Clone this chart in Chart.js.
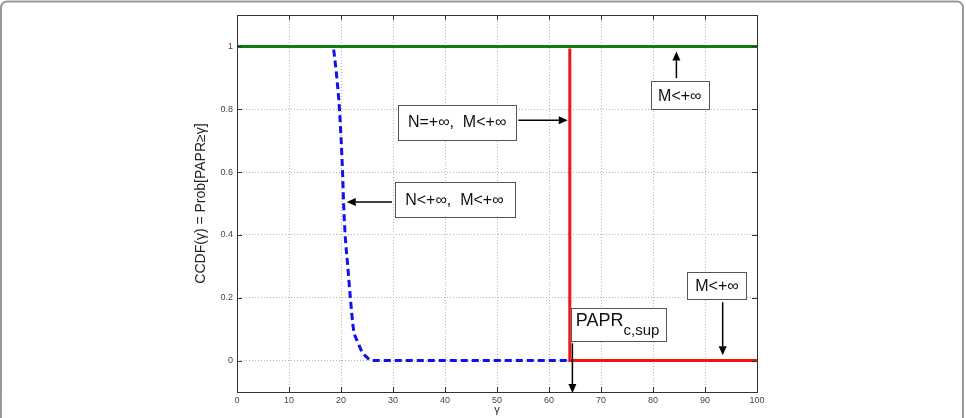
<!DOCTYPE html>
<html>
<head>
<meta charset="utf-8">
<script src="https://cdn.jsdelivr.net/npm/chart.js@4.4.0/dist/chart.umd.min.js"></script>
<style>
  html, body { margin: 0; padding: 0; background: #fff; }
  #wrap { width: 966px; height: 418px; }
</style>
</head>
<body>
<div id="wrap"><canvas id="ccdfChart" width="966" height="418"></canvas></div>
<script>
// curve values
const blueGamma = [18.6, 19.2, 19.7, 20.3, 20.5, 20.8, 21.3, 21.8, 22.4, 23.2, 24.0, 25.0, 25.9, 64];
const blueCcdf  = [0.99, 0.9, 0.8, 0.6, 0.5, 0.4, 0.3, 0.2, 0.1, 0.06, 0.03, 0.01, 0, 0];
const redGamma  = [64, 64, 100];
const redCcdf   = [0.993, 0, 0];
const greenGamma = [0, 100];
const greenCcdf  = [1, 1];

const xTicks = [0, 10, 20, 30, 40, 50, 60, 70, 80, 90, 100];
const yTicks = [0, 0.2, 0.4, 0.6, 0.8, 1];

// text boxes with arrows (data coordinates)
const notes = [
    { text: 'N=+\u221E,  M<+\u221E', box: [31.0, 0.815, 53.65, 0.704], arrow: [54.1, 0.765, 63.6, 0.765] },
    { text: 'N<+\u221E,  M<+\u221E', box: [30.3, 0.569, 53.3, 0.459], arrow: [29.8, 0.505, 21.1, 0.505] },
    { text: 'M<+\u221E', box: [79.6, 0.889, 90.7, 0.799], arrow: [84.5, 0.899, 84.5, 0.984] },
    { text: 'PAPR', sub: 'c,sup', box: [64.2, 0.167, 82.4, 0.061], arrow: [64.5, 0.055, 64.5, -0.103] },
    { text: 'M<+\u221E', box: [86.6, 0.281, 98.0, 0.195], arrow: [93.4, 0.186, 93.4, 0.017] }
];

const toPoints = (xs, ys) => xs.map((x, i) => ({ x: x, y: ys[i] }));

const framePlugin = {
    id: 'frame',
    afterDatasetsDraw(chart) {
        const { ctx, chartArea: a, scales } = chart;
        const sx = scales.x, sy = scales.y;
        ctx.save();
        // axes box
        ctx.strokeStyle = '#333';
        ctx.lineWidth = 1;
        ctx.strokeRect(Math.round(a.left) + 0.5, Math.round(a.top) + 0.5,
            Math.round(a.right - a.left), Math.round(a.bottom - a.top));
        // inward tick marks on all sides
        ctx.beginPath();
        xTicks.forEach(v => {
            const px = Math.round(sx.getPixelForValue(v)) + 0.5;
            ctx.moveTo(px, a.bottom); ctx.lineTo(px, a.bottom - 5);
            ctx.moveTo(px, a.top); ctx.lineTo(px, a.top + 5);
        });
        yTicks.forEach(v => {
            const py = Math.round(sy.getPixelForValue(v)) + 0.5;
            ctx.moveTo(a.left, py); ctx.lineTo(a.left + 5, py);
            ctx.moveTo(a.right, py); ctx.lineTo(a.right - 5, py);
        });
        ctx.stroke();
        ctx.restore();
    },
    afterDraw(chart) {
        const { ctx, scales } = chart;
        const sx = scales.x, sy = scales.y;
        ctx.save();
        notes.forEach(n => {
            const x1 = sx.getPixelForValue(n.box[0]), y1 = sy.getPixelForValue(n.box[1]);
            const x2 = sx.getPixelForValue(n.box[2]), y2 = sy.getPixelForValue(n.box[3]);
            ctx.fillStyle = '#fff';
            ctx.fillRect(x1, y1, x2 - x1, y2 - y1);
            ctx.strokeStyle = '#555';
            ctx.lineWidth = 1;
            ctx.strokeRect(Math.round(x1) + 0.5, Math.round(y1) + 0.5, Math.round(x2 - x1), Math.round(y2 - y1));
            ctx.fillStyle = '#111';
            ctx.textBaseline = 'middle';
            if (n.sub) {
                ctx.textAlign = 'left';
                ctx.font = '18px Arial, "Liberation Sans", sans-serif';
                const w = ctx.measureText(n.text).width;
                ctx.fillText(n.text, x1 + 5, (y1 + y2) / 2 - 4);
                ctx.font = '15px Arial, "Liberation Sans", sans-serif';
                ctx.fillText(n.sub, x1 + 5 + w, (y1 + y2) / 2 + 6);
            } else {
                ctx.textAlign = 'center';
                ctx.font = '16px Arial, "Liberation Sans", sans-serif';
                ctx.fillText(n.text, (x1 + x2) / 2, (y1 + y2) / 2 + 1);
            }
            // arrow
            const ax = sx.getPixelForValue(n.arrow[0]), ay = sy.getPixelForValue(n.arrow[1]);
            const bx = sx.getPixelForValue(n.arrow[2]), by = sy.getPixelForValue(n.arrow[3]);
            const ang = Math.atan2(by - ay, bx - ax);
            const hl = 9, hw = 4;
            ctx.strokeStyle = '#000';
            ctx.lineWidth = 1.5;
            ctx.beginPath();
            ctx.moveTo(ax, ay);
            ctx.lineTo(bx - Math.cos(ang) * hl, by - Math.sin(ang) * hl);
            ctx.stroke();
            ctx.fillStyle = '#000';
            ctx.beginPath();
            ctx.moveTo(bx, by);
            ctx.lineTo(bx - Math.cos(ang) * hl - Math.sin(ang) * hw, by - Math.sin(ang) * hl + Math.cos(ang) * hw);
            ctx.lineTo(bx - Math.cos(ang) * hl + Math.sin(ang) * hw, by - Math.sin(ang) * hl - Math.cos(ang) * hw);
            ctx.closePath();
            ctx.fill();
        });
        // outer figure frame
        ctx.strokeStyle = '#999';
        ctx.lineWidth = 2;
        ctx.beginPath();
        ctx.roundRect(1, 1.5, 962, 440, 6);
        ctx.stroke();
        ctx.restore();
    }
};

new Chart('ccdfChart', {
    type: 'scatter',
    data: {
        datasets: [
            {
                data: toPoints(blueGamma, blueCcdf),
                showLine: true,
                borderColor: '#1010f0',
                borderWidth: 3,
                borderDash: [7, 4],
                pointRadius: 0,
                cubicInterpolationMode: 'monotone',
                order: 3
            },
            {
                data: toPoints(redGamma, redCcdf),
                showLine: true,
                borderColor: '#f01414',
                borderWidth: 3,
                pointRadius: 0,
                order: 2
            },
            {
                data: toPoints(greenGamma, greenCcdf),
                showLine: true,
                borderColor: '#0a800a',
                borderWidth: 3,
                pointRadius: 0,
                order: 1
            }
        ]
    },
    options: {
        responsive: false,
        animation: false,
        layout: { padding: { left: 190, right: 209, top: 15, bottom: 0 } },
        plugins: { legend: { display: false }, tooltip: { enabled: false } },
        scales: {
            x: {
                type: 'linear',
                min: 0,
                max: 100,
                afterBuildTicks: s => { s.ticks = xTicks.map(v => ({ value: v })); },
                afterFit: s => { s.height = 26; },
                ticks: { color: '#444', font: { size: 9, family: 'Arial' }, padding: 3, maxRotation: 0 },
                grid: { color: '#b4b4b4', lineWidth: 1, drawTicks: false },
                border: { display: false, dash: [1, 2] },
                title: { display: true, text: '\u03B3', color: '#333', font: { size: 11, family: 'Arial' }, padding: { top: 0, bottom: 1 } }
            },
            y: {
                min: -0.1,
                max: 1.1,
                afterBuildTicks: s => { s.ticks = yTicks.map(v => ({ value: v })); },
                afterFit: s => { s.width = 47; },
                ticks: { color: '#444', font: { size: 9, family: 'Arial' }, padding: 4, callback: v => String(Math.round(v * 10) / 10) },
                grid: { color: '#b4b4b4', lineWidth: 1, drawTicks: false },
                border: { display: false, dash: [1, 2] },
                title: { display: true, text: 'CCDF(\u03B3) = Prob[PAPR\u2265\u03B3]', color: '#222', font: { size: 14, family: 'Arial' }, padding: { top: 3, bottom: 4 } }
            }
        }
    },
    plugins: [framePlugin]
});
</script>
</body>
</html>
